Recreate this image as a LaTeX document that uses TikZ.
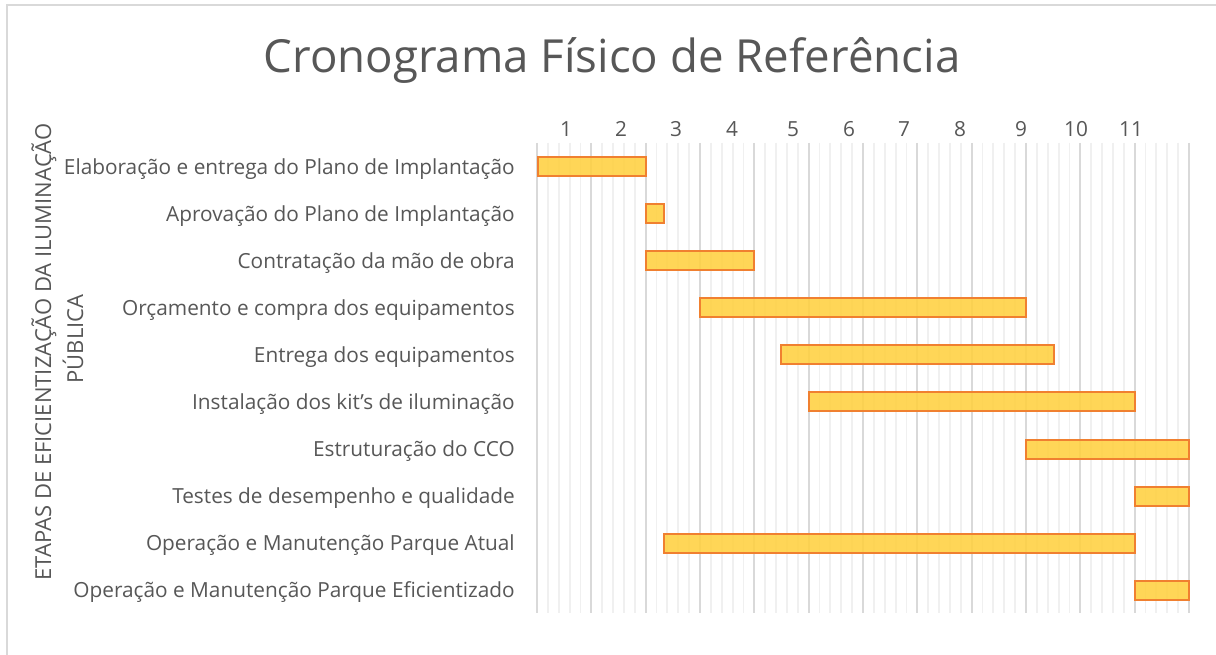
\documentclass[tikz,border=0pt]{standalone}
\usepackage{fontspec}
\setmainfont{Open Sans}
\begin{document}
\begin{tikzpicture}[x=0.75pt,y=-0.75pt,
  txt/.style={text=textgray,inner sep=0pt,font=\fontsize{15.6}{18}\selectfont},
  lbl/.style={txt,anchor=east,yshift=-1.5pt},
  num/.style={txt,anchor=center},
  ttl/.style={txt,rotate=90,font=\fontsize{16.5}{19}\selectfont},
  bar/.style={draw=barline,line width=1.5pt,fill=barfill,fill opacity=0.88},
  major/.style={draw=gridmajor,line width=1.4pt},
  minor/.style={draw=gridminor,line width=1.4pt}]
\definecolor{textgray}{HTML}{575757}
\definecolor{barline}{HTML}{F08030}
\definecolor{barfill}{HTML}{FFD140}
\definecolor{gridmajor}{HTML}{D9D9D9}
\definecolor{gridminor}{HTML}{F0F0F0}
\definecolor{framegray}{HTML}{D9D9D9}
\useasboundingbox (0,0) rectangle (1216,655);
\fill[white] (0,0) rectangle (1216,655);
% frame
\draw[framegray,line width=1pt] (7,655) -- (7,5) -- (1216,5);
% title
\node[text=textgray,inner sep=0pt,font=\fontsize{34.2}{40}\selectfont] (title) at (612,61) {Cronograma Físico de Referência};
% grid
\foreach \i in {0,...,60}{
  \pgfmathtruncatemacro{\m}{mod(\i,5)}
  \ifnum\m=0\relax
  \else
    \draw[minor] ({537+\i*10.86667},143) -- ({537+\i*10.86667},613);
  \fi
}
\foreach \i in {0,...,12}{
  \draw[major] ({537+\i*54.33333},143) -- ({537+\i*54.33333},613);
}
% axis numbers
\foreach \n/\x in {1/566,2/621,3/676,4/732,5/793,6/849,7/904,8/960,9/1021,10/1076,11/1131}{
  \node[num] (n\n) at (\x,129) {\n};
}
% bars
\foreach \k/\a/\b/\y in {1/538/646/167,2/646/664/214,3/646/754/261,4/700/1026/308,5/781/1054/355,6/808.7/1135/402,7/1026/1189/449,8/1135/1189/496,9/664/1135/543,10/1135/1189/590}{
  \draw[bar] (\a,\y-9.5) rectangle (\b,\y+9.5);
}
% labels
\node[lbl] (l1) at (515,167) {Elaboração e entrega do Plano de Implantação};
\node[lbl] (l2) at (515,214) {Aprovação do Plano de Implantação};
\node[lbl] (l3) at (515,261) {Contratação da mão de obra};
\node[lbl] (l4) at (515,308) {Orçamento e compra dos equipamentos};
\node[lbl] (l5) at (515,355) {Entrega dos equipamentos};
\node[lbl] (l6) at (515,402) {Instalação dos kit{\char"27}s de iluminação\ };
\node[lbl] (l7) at (515,449) {Estruturação do CCO};
\node[lbl] (l8) at (515,496) {Testes de desempenho e qualidade};
\node[lbl] (l9) at (515,543) {Operação e Manutenção Parque Atual};
\node[lbl] (l10) at (515,590) {Operação e Manutenção Parque Eficientizado};
% axis title
\node[ttl] (at1) at (44,352) {ETAPAS DE EFICIENTIZAÇÃO DA ILUMINAÇÃO};
\node[ttl] (at2) at (73,339) {PÚBLICA};
\end{tikzpicture}
\end{document}
